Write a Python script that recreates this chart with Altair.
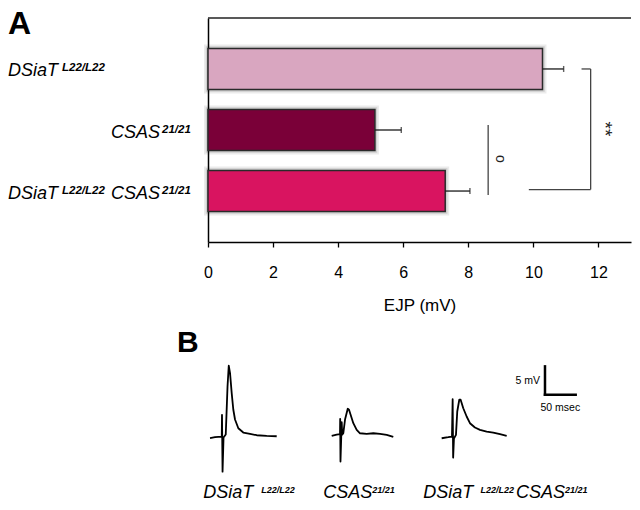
import altair as alt
import pandas as pd

FONT = "Liberation Sans"

# ---------------- Panel A data ----------------
categories = ["DSiaT", "CSAS", "DSiaT CSAS"]
ejp_mean = [10.28, 5.13, 7.29]
ejp_sem = [0.65, 0.81, 0.76]
bar_colors = ["#d9a6c0", "#7a0038", "#d91460"]
has_dsiat = [True, False, True]
has_csas = [False, True, True]
x_ticks = list(range(0, 14))

# significance annotations (x in mV units)
o_line_x = [8.61]
o_text_x = [8.97]
bracket_x = [9.86, 11.48, 11.76]
stars_x = [12.2]

# ---------------- Panel B data (representative EJP traces) ----------------
t1_ms = [0, 8.1, 19.1, 19.5, 20.4, 22.0, 25.6, 28.5, 30.5, 32.6, 35.3, 37.9, 40.7, 46.1, 54.2, 65.1, 76.1, 92.3, 108.6]
t1_mv = [-0.26, -0.09, 0, 3.83, -6.18, -0.18, 0.35, 8.82, 12.48, 11.17, 7.64, 4.76, 3.0, 1.46, 0.71, 0.48, 0.23, 0.12, 0.05]
t2_ms = [0, 8.1, 13.5, 13.8, 14.3, 15.5, 16.3, 17.1, 18.9, 21.7, 26.1, 28.2, 32.6, 35.2, 40.7, 46.1, 57.0, 67.8, 78.7, 89.6, 100.3]
t2_mv = [0.12, 0.35, 0.41, 3.12, -4.41, -0.18, 2.52, 0.35, 0.58, 3.0, 4.89, 4.71, 3.23, 2.35, 1.18, 0.58, 0.48, 0.58, 0.48, 0.30, -0.05]
t3_ms = [0, 10.7, 16.8, 17.9, 18.7, 20.0, 23.3, 25.4, 28.7, 30.9, 35.2, 40.7, 46.1, 54.2, 62.4, 73.3, 84.0, 95.0, 105.9]
t3_mv = [-0.30, -0.12, 0, 6.58, -3.71, -0.35, 0.30, 4.41, 6.48, 6.48, 4.99, 3.53, 2.35, 1.59, 1.18, 0.88, 0.71, 0.41, 0.12]
trace_start_ms = [3.3, 201.5, 380.6]

scale_ms = 50
scale_mv = 5
scale_anchor_ms = 548.9
scale_anchor_mv = 7.36

# ---------------- Panel A ----------------
W_A, H_A = 423, 224
bars_df = pd.DataFrame({"cat": categories, "mean": ejp_mean, "sem": ejp_sem})
bars_df["upper"] = bars_df["mean"] + bars_df["sem"]

xscaleA = alt.Scale(domain=[0, 13], nice=False, zero=False)
yscaleA = alt.Scale(domain=categories, paddingInner=0.33, paddingOuter=0.5)


def XA(field, axis=False):
    if axis:
        return alt.X(field, type="quantitative", scale=xscaleA, title="EJP (mV)",
                     axis=alt.Axis(values=x_ticks, labelExpr="datum.value % 2 === 0 ? datum.label : ''",
                                   grid=False, domainColor="black", domainWidth=1.5,
                                   tickColor="black", tickSize=5, tickWidth=1.3,
                                   labelFont=FONT, labelFontSize=16, labelColor="black",
                                   labelPadding=17, labelOverlap=False, labelFlush=False,
                                   titleFont=FONT, titleFontSize=17, titleFontWeight="normal",
                                   titleColor="black", titlePadding=17))
    return alt.X(field, type="quantitative", scale=xscaleA, title="EJP (mV)")


def YA(axis=False):
    if axis:
        return alt.Y("cat:N", scale=yscaleA, title=None,
                     axis=alt.Axis(labels=False, ticks=False, grid=False, domainColor="black",
                                   domainWidth=1.5, title=None))
    return alt.Y("cat:N", scale=yscaleA, title=None)


colorA = alt.Color("cat:N", scale=alt.Scale(domain=categories, range=bar_colors), legend=None)

shadow1 = alt.Chart(bars_df).mark_bar(fillOpacity=0, stroke="#000", strokeOpacity=0.08, strokeWidth=8).encode(
    x=XA("mean", axis=True), y=YA(axis=True))
shadow2 = alt.Chart(bars_df).mark_bar(fillOpacity=0, stroke="#000", strokeOpacity=0.12, strokeWidth=4.5).encode(
    x=XA("mean"), y=YA())
bars = alt.Chart(bars_df).mark_bar(stroke="#2a2a2a", strokeWidth=1.5).encode(
    x=XA("mean"), y=YA(), color=colorA)
err = alt.Chart(bars_df).mark_rule(color="#1a1a1a", strokeWidth=1.3).encode(
    x=XA("mean"), x2="upper", y=YA())
caps = alt.Chart(bars_df).mark_tick(color="#1a1a1a", thickness=1.4, size=6).encode(
    x=XA("upper"), y=YA())

frame_df = pd.DataFrame({"x0": [0], "x1": [13]})
top_rule = alt.Chart(frame_df).mark_rule(color="#222", strokeWidth=1.3).encode(
    x=XA("x0"), x2="x1", y=alt.value(0))

# significance marks
o_df = pd.DataFrame({"x": o_line_x, "y0": [categories[1]], "y1": [categories[2]]})
o_line = alt.Chart(o_df).mark_rule(color="#444", strokeWidth=1.3, yOffset=-5, y2Offset=4).encode(
    x=XA("x"), y=alt.Y("y0:N", scale=yscaleA, title=None), y2="y1")
o_text = alt.Chart(pd.DataFrame({"x": o_text_x, "y": [categories[1]]})).mark_text(
    text="o", angle=90, fontSize=14, font=FONT, color="#222", align="center", baseline="middle", yOffset=29).encode(
    x=XA("x"), y=alt.Y("y:N", scale=yscaleA, title=None))

br_v = pd.DataFrame({"x": [bracket_x[2]], "y0": [categories[0]], "y1": [categories[2]]})
br_top = pd.DataFrame({"x0": [bracket_x[1]], "x1": [bracket_x[2]], "y": [categories[0]]})
br_bot = pd.DataFrame({"x0": [bracket_x[0]], "x1": [bracket_x[2]], "y": [categories[2]]})
bracket_v = alt.Chart(br_v).mark_rule(color="#444", strokeWidth=1.3, y2Offset=-1.5).encode(
    x=XA("x"), y=alt.Y("y0:N", scale=yscaleA, title=None), y2="y1")
bracket_t = alt.Chart(br_top).mark_rule(color="#444", strokeWidth=1.3).encode(
    x=XA("x0"), x2="x1", y=alt.Y("y:N", scale=yscaleA, title=None))
bracket_b = alt.Chart(br_bot).mark_rule(color="#444", strokeWidth=1.3, yOffset=-1.5).encode(
    x=XA("x0"), x2="x1", y=alt.Y("y:N", scale=yscaleA, title=None))
stars = alt.Chart(pd.DataFrame({"x": stars_x, "y": [categories[1]]})).mark_text(
    text="**", angle=90, fontSize=19, font=FONT, color="#222", align="center",
    baseline="middle", yOffset=-1).encode(
    x=XA("x"), y=alt.Y("y:N", scale=yscaleA, title=None))

# genotype labels on the left
lab_df = pd.DataFrame({"cat": categories, "dsiat": has_dsiat, "csas": has_csas})


def segA(df, text, xpx, dy, size, bold):
    return alt.Chart(df).mark_text(text=text, align="left", baseline="alphabetic", dy=dy, font=FONT,
                                   fontSize=size, fontStyle="italic",
                                   fontWeight="bold" if bold else "normal", color="black").encode(
        x=alt.value(xpx), y=YA())


labA = [
    segA(lab_df[lab_df.dsiat], "DSiaT", -200, 7.5, 18, False),
    segA(lab_df[lab_df.dsiat], "L22/L22", -146, 2.5, 11.5, True),
    segA(lab_df[lab_df.csas], "CSAS", -97, 7.5, 18, False),
    segA(lab_df[lab_df.csas], "21/21", -46, 2.5, 11.5, True),
]
letterA = alt.Chart(pd.DataFrame({"a": [0]})).mark_text(
    text="A", fontSize=32, fontWeight="bold", font=FONT, align="left", baseline="top", color="black").encode(
    x=alt.value(-200), y=alt.value(-9))

panelA = alt.layer(shadow1, shadow2, bars, err, caps, top_rule, o_line, o_text,
                   bracket_v, bracket_t, bracket_b, stars, *labA, letterA).properties(width=W_A, height=H_A)

# ---------------- Panel B ----------------
W_B, H_B = 423, 176
rows = []
for k, (tt, vv) in enumerate([(t1_ms, t1_mv), (t2_ms, t2_mv), (t3_ms, t3_mv)]):
    for i, (t, v) in enumerate(zip(tt, vv)):
        rows.append({"trace": k, "i": i, "t": t + trace_start_ms[k], "v": v})
tr_df = pd.DataFrame(rows)

xscaleB = alt.Scale(domain=[0, 689], nice=False, zero=False)
yscaleB = alt.Scale(domain=[-11, 20], nice=False, zero=False)


def XB(field):
    return alt.X(field, type="quantitative", scale=xscaleB, axis=None)


def YB(field):
    return alt.Y(field, type="quantitative", scale=yscaleB, axis=None)


traces = alt.Chart(tr_df).mark_line(color="black", strokeWidth=1.8, strokeJoin="round").encode(
    x=XB("t"), y=YB("v"), detail="trace:N", order="i:Q")

sb_df = pd.DataFrame({"x0": [scale_anchor_ms], "x1": [scale_anchor_ms + scale_ms],
                      "y0": [scale_anchor_mv], "y1": [scale_anchor_mv + scale_mv]})
sb_v = alt.Chart(sb_df).mark_rule(color="black", strokeWidth=2.5, strokeCap="square").encode(
    x=XB("x0"), y=YB("y0"), y2="y1")
sb_h = alt.Chart(sb_df).mark_rule(color="black", strokeWidth=2.5, strokeCap="square").encode(
    x=XB("x0"), x2="x1", y=YB("y0"))
sb_mv_txt = alt.Chart(sb_df).mark_text(text="5 mV", align="right", baseline="middle", fontSize=10.5,
                                       font=FONT, color="black", dx=-5).encode(
    x=XB("x0"), y=alt.Y("mid:Q", scale=yscaleB, axis=None)).transform_calculate(mid="(datum.y0 + datum.y1) / 2")
sb_ms_txt = alt.Chart(sb_df).mark_text(text="50 msec", align="center", baseline="alphabetic", fontSize=10.5,
                                       font=FONT, color="black", dy=16).encode(
    x=alt.X("mid:Q", scale=xscaleB, axis=None), y=YB("y0")).transform_calculate(mid="(datum.x0 + datum.x1) / 2")

letterB = alt.Chart(pd.DataFrame({"a": [0]})).mark_text(
    text="B", fontSize=30, fontWeight="bold", font=FONT, align="left", baseline="alphabetic", color="black").encode(
    x=alt.value(-31), y=alt.value(29))

# labels beneath traces
labB_main = pd.DataFrame({"text": ["DSiaT", "CSAS", "DSiaT", "CSAS"], "x": [-4.7, 115.3, 215.3, 308.0]})
labB_sup = pd.DataFrame({"text": ["L22/L22", "21/21", "L22/L22", "21/21"], "x": [53.3, 164.3, 272.5, 357.0]})
labB1 = alt.Chart(labB_main).mark_text(align="left", baseline="alphabetic", font=FONT, fontSize=18,
                                       fontStyle="italic", color="black").encode(
    x=alt.X("x:Q", scale=None, axis=None), y=alt.value(175), text="text:N")
labB2 = alt.Chart(labB_sup).mark_text(align="left", baseline="alphabetic", font=FONT, fontSize=9,
                                      fontStyle="italic", fontWeight="bold", color="black").encode(
    x=alt.X("x:Q", scale=None, axis=None), y=alt.value(170), text="text:N")

panelB = alt.layer(traces, sb_v, sb_h, sb_mv_txt, sb_ms_txt, letterB, labB1, labB2).properties(
    width=W_B, height=H_B)

chart = alt.vconcat(panelA, panelB, spacing=10).properties(padding=0).configure_view(stroke=None)

chart.save("out.html", embed_options={"renderer": "svg", "actions": False})
